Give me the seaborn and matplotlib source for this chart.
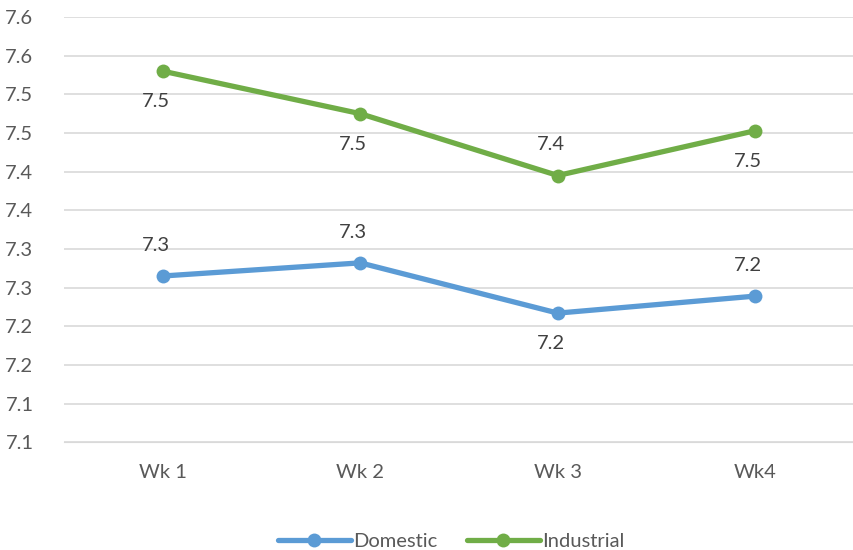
import pandas as pd
import seaborn as sns
import matplotlib.pyplot as plt

weeks = ['Wk 1', 'Wk 2', 'Wk 3', 'Wk4']
domestic = [7.265, 7.282, 7.217, 7.239]
industrial = [7.530, 7.475, 7.395, 7.453]
y_ticks = [7.05, 7.10, 7.15, 7.20, 7.25, 7.30, 7.35, 7.40, 7.45, 7.50, 7.55, 7.60]
y_labels = ['7.1', '7.1', '7.2', '7.2', '7.3', '7.3', '7.4', '7.4', '7.5', '7.5', '7.6', '7.6']
dom_labels = ['7.3', '7.3', '7.2', '7.2']
ind_labels = ['7.5', '7.5', '7.4', '7.5']
dom_above = [True, True, False, True]
ind_above = [False, False, True, False]

df = pd.DataFrame({'Week': weeks * 2,
                   'Value': domestic + industrial,
                   'Series': ['Domestic'] * 4 + ['Industrial'] * 4})

sns.set_style('white')
plt.rcParams['font.family'] = ['Lato', 'DejaVu Sans']
grey = '#595959'

fig = plt.figure(figsize=(8.54, 5.5), dpi=100)
ax = fig.add_axes([0.075, 0.196, 0.925, 0.773])

sns.lineplot(data=df, x='Week', y='Value', hue='Series', marker='o',
             palette={'Domestic': '#5B9BD5', 'Industrial': '#70AD47'},
             linewidth=3.8, markersize=10, markeredgewidth=0, ax=ax, sort=False)

# data labels, above or below each point
for vals, labs, above in [(domestic, dom_labels, dom_above), (industrial, ind_labels, ind_above)]:
    for i, (v, lab, up) in enumerate(zip(vals, labs, above)):
        ax.annotate(lab, (i, v), xytext=(-5, 22 if up else -22), textcoords='offset points',
                    ha='center', va='center', fontsize=14.5, color='#404040')

ax.set_ylim(7.05, 7.60)
ax.set_xlim(-0.5, 3.5)
ax.set_yticks(y_ticks)
ax.set_yticklabels(y_labels)
ax.grid(axis='y', color='#D9D9D9', linewidth=1.2)
ax.set_axisbelow(True)
for s in ax.spines.values():
    s.set_visible(False)
ax.spines['bottom'].set_visible(True)
ax.spines['bottom'].set_color('#D9D9D9')
ax.tick_params(axis='both', length=0, labelsize=14.5, labelcolor=grey)
ax.tick_params(axis='x', pad=16)
ax.tick_params(axis='y', pad=22)
ax.set_xlabel('')
ax.set_ylabel('')

leg = ax.legend(loc='upper center', bbox_to_anchor=(0.49, -0.17), ncol=2, frameon=False,
                fontsize=14.5, handlelength=3.6, handletextpad=0.1, columnspacing=1.5)
for t in leg.get_texts():
    t.set_color(grey)

fig.savefig('out.png', dpi=100)
